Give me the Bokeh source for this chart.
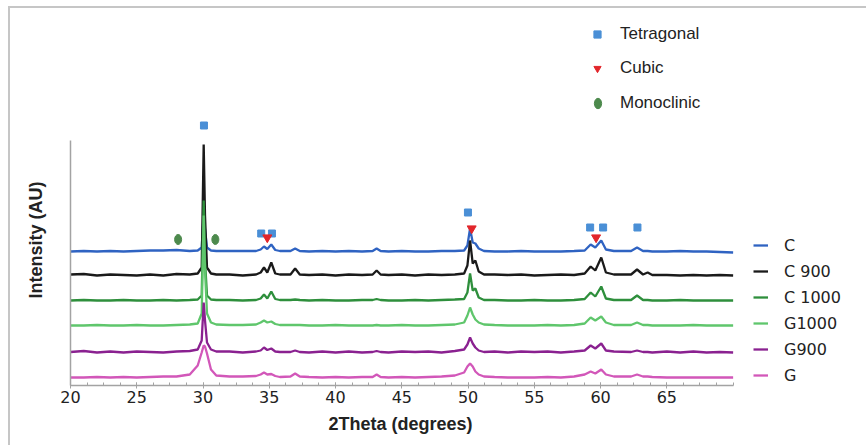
import numpy as np
from bokeh.plotting import figure
from bokeh.models import Range1d, FixedTicker, Legend, LegendItem, Title
from bokeh.embed import file_html
from bokeh.resources import INLINE

# ---------------- data ----------------
two_theta = [20, 21, 22, 23, 24, 25, 26, 27, 28, 29,
             29.6, 29.9, 30.05, 30.15, 30.3, 30.6, 31.0,
             32, 33, 34.0,
             34.35, 34.6, 34.85, 35.15, 35.45, 35.8,
             36.6, 36.95, 37.3,
             38, 39, 40, 41, 42,
             42.8, 43.1, 43.4,
             44, 45, 46, 47, 48, 49,
             49.7, 49.95, 50.15, 50.35, 50.55, 50.8, 51.2,
             52, 53, 54, 55, 56, 57, 58,
             58.8, 59.25, 59.6, 60.05, 60.4, 61,
             62.3, 62.75, 63.2, 63.55, 63.9,
             65, 66, 67, 68, 69, 70]

series_labels = ["C", "C 900", "C 1000", "G1000", "G900", "G"]
series_colors = ["#2f63c2", "#1a1a1a", "#2e8f3c", "#5fc66c", "#8a2190", "#d257b9"]
series_offsets = [134, 110, 85, 60, 33, 8]

int_C = [0, 0.5, 0, 0.5, 0, 0.5, 1, 1, 1.5, 0.5,
         1, 4, 38, 22, 4, 1, 0.5,
         0.5, 0.5, 0.5,
         2, 5, 2.5, 7, 1.5, 0.5,
         0.5, 3, 0.5,
         0, 0.5, 0, 0.5, 0,
         0.5, 3, 0.5,
         0, 0.5, 0, 0, 0.5, 0.5,
         1, 6, 23, 9, 8, 3, 0.5,
         0, 0, 0.5, 0, 0, 0, 0.5,
         1, 7, 4, 11, 2, 0.5,
         0.5, 4, 0.5, 0.5, 0,
         0, 0.5, 0, 0, -0.5, -1]

int_C900 = [1, 1.5, 0, 1, 0.5, 0, 1, 0, 1.5, 1,
            2, 8, 131, 60, 8, 2, 1,
            1, 0, 1,
            3, 8, 3, 13, 2, 1,
            1, 7, 1,
            0.5, 1, 0, 1, 0.5,
            1, 5, 1,
            0.5, 1, 0, 1, 0.5, 1,
            2, 10, 35, 12, 15, 4, 1,
            1, 0.5, 1, 0, 0.5, 1, 0.5,
            2, 9, 5, 18, 3, 1,
            1, 6, 1, 3, 0.5,
            0.5, 0, 0.5, 0, 0.5, 0]

int_C1000 = [0, 0.5, 0, 0, 0.5, 0, 0, 0.5, 0, 0.5,
             1, 5, 100, 40, 5, 1, 0.5,
             0.5, 0, 0.5,
             2, 6, 2, 9, 1.5, 0.5,
             0.5, 1, 0.5,
             0, 0.5, 0, 0, 0.5,
             0.5, 1.5, 0.5,
             0, 0, 0.5, 0, 0.5, 1,
             1.5, 8, 27, 10, 12, 3, 0.5,
             0.5, 0, 0, 0.5, 0, 0, 0.5,
             1.5, 8, 4, 14, 2, 0.5,
             0.5, 5, 0.5, 0.5, 0,
             0, 0.5, 0, 0, 0, 0]

int_G1000 = [0, 0, 0.5, 0, 0, 0.5, 0, 0, 0.5, 1,
             2, 12, 110, 55, 12, 3, 1,
             0.5, 0.5, 1,
             3, 5, 3, 4, 1.5, 0.5,
             0.5, 0.5, 0.5,
             0, 0, 0.5, 0, 0,
             0, 0.5, 0,
             0, 0.5, 0, 0, 0.5, 1,
             3, 10, 18, 11, 6, 3, 1,
             0.5, 0, 0, 0, 0.5, 0, 0.5,
             2, 8, 5, 9, 3, 0.5,
             0.5, 3, 0.5, 0.5, 0,
             0, 0, 0.5, 0, 0, 0]

int_G900 = [0.5, 1.5, 0, 1, 0, 1, 0.5, 0, 1, 1.5,
            3, 12, 50, 32, 10, 3, 1,
            1, 0, 1,
            2, 5, 2.5, 4, 1, 0.5,
            0.5, 2, 0.5,
            0, 1, 0, 1, 0,
            0.5, 1.5, 0.5,
            0, 1, 0.5, 1, 0, 1.5,
            3, 8, 15, 9, 5, 2, 0.5,
            1, 0, 1, 0.5, 1, 0, 1,
            2, 7, 4, 9, 2, 1,
            0.5, 2, 0.5, 0.5, 0,
            1, 0, 1, 0, 0.5, 0]

int_G = [0, 0, 0.5, 0, 0.5, 0, 0.5, 1, 1, 3,
         12, 25, 32, 31, 24, 8, 2,
         1, 1, 1.5,
         3, 5, 3, 3.5, 1.5, 0.5,
         1, 4, 1,
         0.5, 0, 0.5, 0, 0.5,
         0.5, 3, 0.5,
         0, 0.5, 0, 0.5, 1, 2,
         5, 11, 14, 11, 6, 3, 1,
         0.5, 0, 0, 0, 0.5, 0, 1,
         3, 6, 4, 8, 3, 1,
         1, 3, 1, 1, 0.5,
         0, 0, 0, 0, 0, 0]

series_values = [int_C, int_C900, int_C1000, int_G1000, int_G900, int_G]

# phase markers (2theta, height above axis)
tetragonal_x = [30.07, 34.39, 35.2, 49.99, 59.21, 60.19, 62.78]
tetragonal_y = [260, 152, 152, 173, 158, 158, 158]
cubic_x = [34.85, 50.27, 59.66]
cubic_y = [148, 157, 148]
monoclinic_x = [28.12, 30.93]
monoclinic_y = [146, 146]

x_ticks = [20, 25, 30, 35, 40, 45, 50, 55, 60, 65]
x_title = "2Theta (degrees)"
y_title = "Intensity (AU)"

# ---------------- figure ----------------
p = figure(width=866, height=445, x_range=Range1d(20, 79.46), y_range=Range1d(0, 377),
           output_backend="svg", toolbar_location=None,
           min_border_left=69, min_border_right=8, min_border_top=8, min_border_bottom=60)
p.border_fill_alpha = 0
p.styles = {"background-color": "white",
            "box-shadow": "inset 8px 6px 0 0 white, inset 10px 8px 0 0 #c6c6c6"}
p.xgrid.visible = False
p.ygrid.visible = False
p.outline_line_color = None
p.background_fill_color = "white"

axis_gray = "#a3a3a3"
xa = p.xaxis[0]
xa.ticker = FixedTicker(ticks=x_ticks, minor_ticks=list(np.arange(20, 70.01, 1.25)))
xa.bounds = (20, 70)
xa.axis_line_color = axis_gray
xa.axis_line_width = 1.5
xa.major_tick_line_color = axis_gray
xa.minor_tick_line_color = axis_gray
xa.major_tick_in = 3
xa.major_tick_out = 3
xa.minor_tick_in = 3
xa.minor_tick_out = 0
xa.major_label_text_font = "DejaVu Sans"
xa.major_label_text_font_size = "16px"
xa.major_label_text_color = "#222222"
xa.major_label_standoff = 2

ya = p.yaxis[0]
ya.ticker = FixedTicker(ticks=[])
ya.bounds = (0, 245)
ya.axis_line_color = axis_gray
ya.axis_line_width = 1.5
ya.major_tick_out = 0
ya.major_tick_in = 0
ya.minor_tick_out = 0
ya.minor_tick_in = 0
ya.major_label_standoff = 0

# axis titles placed under / beside the drawn axis spans
p.add_layout(Title(text=x_title, align="left", offset=258, standoff=15,
                   vertical_align="middle",
                   text_font="Liberation Sans", text_font_style="bold",
                   text_font_size="18px", text_color="#222222"), "below")
p.add_layout(Title(text=y_title, align="left", offset=87, standoff=48,
                   vertical_align="middle",
                   text_font="Liberation Sans", text_font_style="bold",
                   text_font_size="18px", text_color="#222222"), "left")

# ---------------- traces ----------------
line_items = []
for lab, col, off, vals in zip(series_labels, series_colors, series_offsets, series_values):
    r = p.line(two_theta, np.array(vals, dtype=float) + off, line_color=col, line_width=2.3)
    line_items.append(LegendItem(label=lab, renderers=[r]))

r_t = p.scatter(tetragonal_x, tetragonal_y, marker="square", size=7,
                fill_color="#4a8fd6", line_color="#4a8fd6")
r_c = p.scatter(cubic_x, cubic_y, marker="inverted_triangle", size=9,
                fill_color="#e2262b", line_color="#e2262b")
r_m = p.ellipse(monoclinic_x, monoclinic_y, width=7, height=10,
                width_units="screen", height_units="screen",
                fill_color="#4d8a4d", line_color="#4d8a4d")

# ---------------- legends ----------------
def make_legend(items, loc, gw, gh, spacing, standoff, font, size):
    return Legend(items=items, location=loc, glyph_width=gw, glyph_height=gh,
                  label_height=gh, spacing=spacing, label_standoff=standoff,
                  padding=0, margin=0, border_line_alpha=0, background_fill_alpha=0,
                  label_text_font=font, label_text_font_size=size,
                  label_text_color="#222222", label_text_baseline="middle")

leg_lines = make_legend(line_items, (683, 0), 15, 20, 6, 16, "DejaVu Sans", "16px")
leg_phase = make_legend([LegendItem(label="Tetragonal", renderers=[r_t]),
                         LegendItem(label="Cubic", renderers=[r_c])],
                        (518, 307), 18, 20, 14, 14, "Liberation Sans", "17px")
leg_mono = make_legend([LegendItem(label="Monoclinic", renderers=[r_m])],
                       (521, 272), 13, 20, 0, 16, "Liberation Sans", "17px")
for lg in (leg_lines, leg_phase, leg_mono):
    p.add_layout(lg)

open("out.html", "w").write(file_html(p, INLINE))
